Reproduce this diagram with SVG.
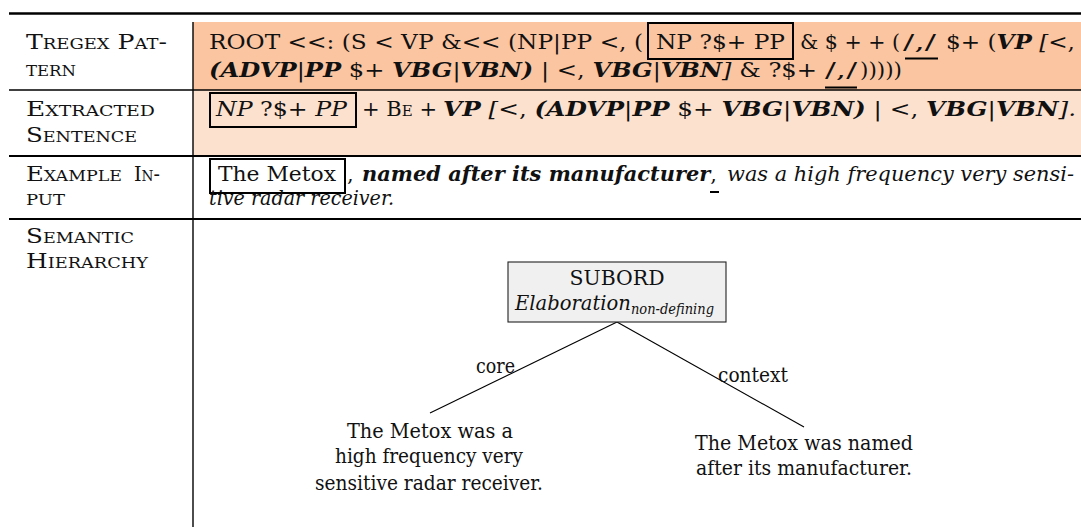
<svg xmlns="http://www.w3.org/2000/svg" width="1081" height="527" viewBox="0 0 1081 527">
<style>
text{font-family:"DejaVu Serif","Noto Serif",serif;font-size:21px;fill:#111}
.sc{font-variant:small-caps}
.i{font-style:italic}
.bi{font-style:italic;font-weight:bold}
.rule{stroke:#000;fill:none}
.box{fill:none;stroke:#000;stroke-width:2}
.ul{stroke:#000;stroke-width:2}
.edge{stroke:#000;stroke-width:1.1;fill:none}
.mid{text-anchor:middle}
</style>
<rect width="1081" height="527" fill="#fff"/>
<g id="table-background">
<rect x="193" y="22" width="888" height="68" fill="#FBC5A1"/>
<rect x="193" y="90" width="888" height="66" fill="#FDE1CF"/>
</g>
<g id="table-rules">
<line class="rule" x1="9" y1="13.5" x2="1081" y2="13.5" stroke-width="2.6"/>
<line class="rule" x1="9" y1="90" x2="1081" y2="90" stroke-width="1.3"/>
<line class="rule" x1="9" y1="156" x2="1081" y2="156" stroke-width="2"/>
<line class="rule" x1="9" y1="219" x2="1081" y2="219" stroke-width="2"/>
<line class="rule" x1="193" y1="22" x2="193" y2="527" stroke-width="1.4"/>
</g>
<g id="row-labels">
<text class="sc" x="26" y="49" textLength="141" lengthAdjust="spacingAndGlyphs">Tregex Pat-</text>
<text class="sc" x="26" y="76" textLength="50" lengthAdjust="spacingAndGlyphs">tern</text>
<text class="sc" x="26" y="116" textLength="129" lengthAdjust="spacingAndGlyphs">Extracted</text>
<text class="sc" x="26" y="142" textLength="111" lengthAdjust="spacingAndGlyphs">Sentence</text>
<text class="sc" x="26" y="181" textLength="96" lengthAdjust="spacingAndGlyphs">Example</text>
<text class="sc" x="134" y="181" textLength="26" lengthAdjust="spacingAndGlyphs">In-</text>
<text class="sc" x="26" y="205" textLength="39" lengthAdjust="spacingAndGlyphs">put</text>
<text class="sc" x="26" y="243" textLength="108" lengthAdjust="spacingAndGlyphs">Semantic</text>
<text class="sc" x="26" y="268" textLength="122" lengthAdjust="spacingAndGlyphs">Hierarchy</text>
</g>
<g id="tregex-pattern">
<text x="209" y="49" textLength="434" lengthAdjust="spacingAndGlyphs">ROOT &lt;&lt;: (S &lt; VP &amp;&lt;&lt; (NP|PP &lt;, (</text>
<rect class="box" x="648" y="23" width="145" height="36"/>
<text x="656" y="49" textLength="129" lengthAdjust="spacingAndGlyphs">NP ?$+ PP</text>
<text x="800" y="49" textLength="100" lengthAdjust="spacingAndGlyphs">&amp; $ + + (</text>
<text x="903" y="49" textLength="33" lengthAdjust="spacingAndGlyphs">/,/</text>
<line class="ul" x1="905" y1="58.5" x2="938" y2="58.5"/>
<text x="946" y="49" textLength="129" lengthAdjust="spacingAndGlyphs">$+ (<tspan class="bi">VP</tspan> <tspan class="i">[</tspan>&lt;,</text>
<text x="209" y="77" textLength="608" lengthAdjust="spacingAndGlyphs"><tspan class="bi">(ADVP</tspan>|<tspan class="bi">PP</tspan> $+  <tspan class="bi">VBG</tspan>|<tspan class="bi">VBN)</tspan> | &lt;, <tspan class="bi">VBG</tspan>|<tspan class="bi">VBN</tspan><tspan class="i">]</tspan> &amp; ?$+</text>
<text x="825" y="77" textLength="32" lengthAdjust="spacingAndGlyphs">/,/</text>
<line class="ul" x1="825" y1="87.5" x2="857" y2="87.5"/>
<text x="860" y="77" textLength="42" lengthAdjust="spacingAndGlyphs">)))))</text>
</g>
<g id="extracted-sentence">
<rect class="box" x="210" y="93" width="146" height="34"/>
<text x="216" y="116" textLength="131" lengthAdjust="spacingAndGlyphs"><tspan class="i">NP</tspan> ?$+ <tspan class="i">PP</tspan></text>
<text x="362" y="116" textLength="75" lengthAdjust="spacingAndGlyphs">+ <tspan class="sc">Be</tspan> +</text>
<text x="443" y="116" textLength="633" lengthAdjust="spacingAndGlyphs"><tspan class="bi">VP</tspan> <tspan class="i">[</tspan>&lt;, <tspan class="bi">(ADVP</tspan>|<tspan class="bi">PP</tspan> $+  <tspan class="bi">VBG</tspan>|<tspan class="bi">VBN)</tspan> | &lt;, <tspan class="bi">VBG</tspan>|<tspan class="bi">VBN</tspan><tspan class="i">].</tspan></text>
</g>
<g id="example-input">
<rect class="box" x="210" y="159" width="135" height="34"/>
<text x="218" y="181" textLength="118" lengthAdjust="spacingAndGlyphs">The Metox</text>
<text x="347" y="181">,</text>
<text x="362" y="181" textLength="355" lengthAdjust="spacingAndGlyphs"><tspan class="bi">named after its manufacturer</tspan>,</text>
<line class="ul" x1="710" y1="192" x2="719" y2="192"/>
<text class="i" x="727" y="181" textLength="347" lengthAdjust="spacingAndGlyphs">was a high frequency very sensi-</text>
<text class="i" x="209" y="205" textLength="185" lengthAdjust="spacingAndGlyphs">tive radar receiver.</text>
</g>
<g id="connectors">
<line class="edge" x1="617" y1="322" x2="430" y2="413"/>
<line class="edge" x1="617" y1="322" x2="804" y2="427"/>
<text x="476" y="373" textLength="39" lengthAdjust="spacingAndGlyphs">core</text>
<text x="718" y="382" textLength="70" lengthAdjust="spacingAndGlyphs">context</text>
</g>
<g id="node-subord">
<rect x="508" y="262" width="218" height="60" fill="#F0F0F0" stroke="#222" stroke-width="1.1"/>
<text class="mid" x="617" y="285" textLength="95" lengthAdjust="spacingAndGlyphs">SUBORD</text>
<text class="i" x="515" y="310" textLength="199" lengthAdjust="spacingAndGlyphs">Elaboration<tspan font-size="14" dy="4">non-defining</tspan></text>
</g>
<g id="node-core">
<text class="mid" x="430" y="438" textLength="166" lengthAdjust="spacingAndGlyphs">The Metox was a</text>
<text class="mid" x="429" y="463" textLength="188" lengthAdjust="spacingAndGlyphs">high frequency very</text>
<text class="mid" x="429" y="490" textLength="228" lengthAdjust="spacingAndGlyphs">sensitive radar receiver.</text>
</g>
<g id="node-context">
<text class="mid" x="804" y="450" textLength="218" lengthAdjust="spacingAndGlyphs">The Metox was named</text>
<text class="mid" x="804" y="475" textLength="216" lengthAdjust="spacingAndGlyphs">after its manufacturer.</text>
</g>
</svg>
